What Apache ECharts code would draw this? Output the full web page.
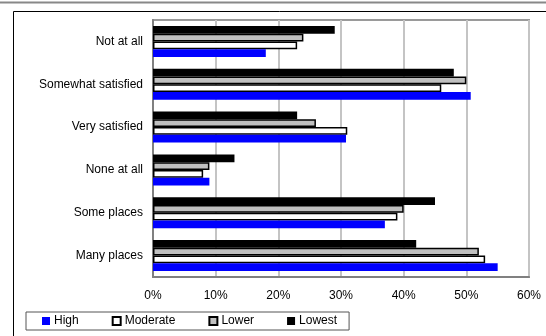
<!DOCTYPE html>
<html>
<head>
<meta charset="utf-8">
<script src="https://cdn.jsdelivr.net/npm/echarts@6/dist/echarts.min.js"></script>
<style>
  html, body { margin: 0; padding: 0; background: #fff; }
  #chart { width: 546px; height: 336px; }
</style>
</head>
<body>
<div id="chart"></div>
<script>
// Categories, listed top to bottom
const categories = ['Not at all', 'Somewhat satisfied', 'Very satisfied', 'None at all', 'Some places', 'Many places'];

// Percentages per group
const high     = [18, 50.7, 30.8, 9, 37, 55];
const moderate = [23, 46, 31, 8, 39, 53];
const lower    = [24, 50, 26, 9, 40, 52];
const lowest   = [29, 48, 23, 13, 45, 42];

const xTicks = { min: 0, max: 60, step: 10 };

const FONT = 'Liberation Sans, Arial, sans-serif';
const chart = echarts.init(document.getElementById('chart'), null, { renderer: 'canvas' });

const barW = 7.75;
function bar(name, data, color, border) {
  return {
    name: name,
    type: 'bar',
    data: data,
    barWidth: barW,
    barGap: '0%',
    itemStyle: {
      color: color,
      borderColor: border ? '#000' : color,
      borderWidth: border ? 1.5 : 0
    },
    emphasis: { disabled: true }
  };
}

chart.setOption({
  animation: false,
  backgroundColor: '#fff',
  textStyle: { fontFamily: FONT, color: '#000' },
  graphic: [
    { type: 'line', shape: { x1: 0, y1: 2.5, x2: 546, y2: 2.5 }, style: { stroke: '#888', lineWidth: 2 }, silent: true },
    { type: 'polyline', shape: { points: [[13.5, 336], [13.5, 11.5], [546, 11.5]] }, style: { stroke: '#000', lineWidth: 1, fill: null }, silent: true }
  ],
  grid: {
    left: 153, right: 17, top: 20, bottom: 59,
    show: true, borderColor: '#9a9a9a', borderWidth: 2, containLabel: false
  },
  legend: {
    data: ['High', 'Moderate', 'Lower', 'Lowest'],
    left: 26, top: 312,
    padding: [3, 12, 3, 16],
    itemGap: 33,
    itemWidth: 8, itemHeight: 8,
    icon: 'rect',
    borderColor: '#555', borderWidth: 1,
    textStyle: { fontFamily: FONT, fontSize: 12, color: '#000', padding: [0, 0, 0, -1] },
    selectedMode: false
  },
  xAxis: {
    type: 'value',
    min: xTicks.min, max: xTicks.max, interval: xTicks.step,
    axisLine: { show: true, lineStyle: { color: '#808080', width: 2 } },
    axisTick: { show: false },
    splitLine: { show: true, lineStyle: { color: '#c4c4c4', width: 2 } },
    axisLabel: { formatter: '{value}%', fontFamily: FONT, fontSize: 12, color: '#000', margin: 13 }
  },
  yAxis: {
    type: 'category',
    data: categories,
    inverse: true,
    axisLine: { show: true, lineStyle: { color: '#808080', width: 2 } },
    axisTick: { show: false },
    axisLabel: { fontFamily: FONT, fontSize: 12, color: '#000', margin: 10 }
  },
  series: [
    bar('Lowest', lowest, '#000000', false),
    bar('Lower', lower, '#c0c0c0', true),
    bar('Moderate', moderate, '#ffffff', true),
    bar('High', high, '#0000ff', false)
  ]
});
</script>
</body>
</html>
